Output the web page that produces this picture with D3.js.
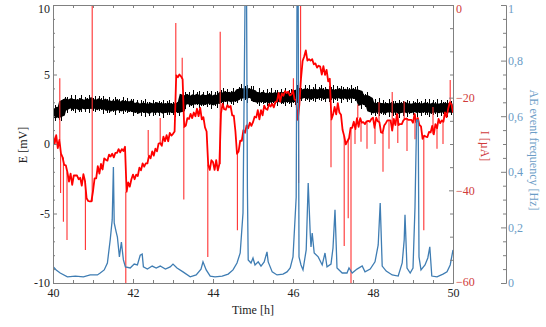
<!DOCTYPE html>
<html><head><meta charset="utf-8">
<script src="https://cdn.jsdelivr.net/npm/d3@7"></script>
<style>
html,body{margin:0;padding:0;background:#fff;}
svg{display:block;font-family:"Liberation Serif","Times New Roman",serif;}
</style></head><body>
<svg id="c" width="546" height="327"></svg>
<script>
// ---------- DATA ----------
// E [mV] (black), sampled every 0.05 h from 40 h
const eT0 = 40, eDt = 0.05;
const eMean = [
 2.25,2.20,2.30,2.22,2.28,
 2.85,2.92,2.80,2.88,2.95,2.83,2.90,2.86,2.79,2.93,2.87,2.82,2.91,2.85,2.96,2.84,2.89,2.81,2.92,2.86,2.80,2.88,
 2.75,2.80,2.70,2.78,2.72,2.83,2.74,2.69,2.79,2.73,2.77,2.68,2.76,
 2.62,2.58,2.66,2.55,2.61,2.64,2.57,2.60,2.53,2.63,2.59,2.56,2.65,2.58,2.62,2.54,2.60,2.57,2.63,2.59,2.55,2.61,2.64,2.58,2.62,
 3.20,3.15,3.24,3.18,3.12,3.22,3.17,3.25,3.19,3.14,3.23,3.16,3.21,3.26,3.18,3.13,3.22,3.19,3.24,
 3.40,3.36,3.44,3.38,3.42,3.35,3.43,3.39,3.45,
 3.65,3.70,3.62,3.68,3.60,3.67,3.63,3.58,
 3.35,3.30,3.38,3.33,3.40,3.31,3.36,3.29,3.37,3.34,3.39,3.32,3.35,3.41,3.30,3.36,3.33,3.38,3.31,3.37,3.34,
 3.60,3.64,3.57,3.62,3.66,3.59,3.63,3.55,3.61,3.65,3.58,3.62,3.67,3.60,3.56,3.63,3.59,3.64,3.61,3.57,3.62,3.66,3.58,3.60,3.63,3.56,3.61,3.59,3.64,3.57,3.60,3.55,
 3.15,3.20,3.12,3.18,3.10,
 2.60,2.55,2.63,2.58,2.65,2.57,2.62,2.54,2.61,2.59,2.64,2.56,2.60,2.63,2.53,2.62,2.58,2.66,2.57,2.61,2.55,2.60,2.64,2.58,2.62,2.56,2.59,2.65,2.57,2.61,2.54,2.63,2.58,2.60,2.56,2.62,2.59,2.64,2.57,2.61,2.58,2.60
];
// spread of E around its mean (mV)
const eDev = [
 0.40,0.57,0.33,0.51,0.65,0.37,0.46,0.60,0.30,0.54,0.43,0.66,0.35,0.49,0.62,0.32,0.55,0.41,0.64,0.38,
 0.47,0.59,0.34,0.53,0.42,0.64,0.31,0.50,0.58,0.36,0.45,0.66,0.39,0.52,0.33,0.61,0.44,0.56,0.35,0.48,
 0.63,0.37,0.51,0.32,0.56,0.43,0.66,0.40,0.48,0.34,0.59,0.45,0.30,0.54,0.42,0.65,0.36,0.50,0.57,0.33,
 0.44,0.66,0.38,0.55,0.31,0.49,0.62,0.35,0.53,0.41,0.66,0.32,0.47,0.60,0.39,0.52,0.34,0.58,0.43,0.64,
 0.35,0.51,0.61,0.33,0.46,0.66,0.40,0.55,0.31,0.48,0.63,0.37,0.53,0.42,0.59,0.30,0.49,0.66,0.38,0.54,
 0.58,0.32,0.45,0.64,0.39,0.52,0.34,0.60,0.43,0.66,0.36,0.50,0.57,0.31,0.55,0.41,0.66,0.35,0.48,0.62,
 0.41,0.54,0.66,0.36,0.49,0.32,0.57,0.44,0.63,0.38,0.51,0.65,0.33,0.47,0.60,0.40,0.53,0.31,0.56,0.45,
 0.66,0.39,0.52,0.35,0.61,0.47,0.30,0.55,0.42,0.66,0.37,0.50,0.58,0.34,0.64,0.43,0.48,0.59,0.32,0.51,
 0.33,0.60,0.43,0.66,0.38,0.54,0.46,0.31,0.62,0.40,0.56,0.49,0.35,0.65,0.42,0.53,0.37,0.61,0.45,0.30,
 0.52,0.37,0.64,0.41,0.55,0.33,0.59,0.48,0.66,0.36,0.51,0.43,0.66,0.32,0.57,0.46,0.40,0.63,0.34,0.49,
 0.55
];
// I [uA] (red), sampled every 0.04 h from 40 h
const iT0 = 40, iDt = 0.04;
const iBase = [
 -28.0,-30.0,-28.1,-30.9,-29.1,-32.1,-32.9,-34.5,-34.6,-36.1,-38.1,-36.4,-38.8,-36.8,-36.8,-36.8,-37.6,-37.3,-39.0,-36.5,-38.0,-41.7,-42.3,-42.4,-42.4,
 -40.2,-37.4,-37.4,-34.8,-36.4,-34.3,-35.5,-33.1,-33.4,-33.6,-32.3,-32.7,-32.1,-32.9,-31.9,-31.9,-31.1,-31.8,-31.1,-31.5,-30.6,-40.3,-38.3,-39.2,-37.6,
 -36.6,-37.6,-36.6,-36.9,-35.1,-35.7,-34.2,-34.9,-34.2,-34.2,-32.5,-33.1,-31.6,-32.5,-31.0,-31.6,-29.9,-29.8,-30.4,-28.4,-29.4,-28.1,-29.4,-27.6,-28.2,
 -27.8,-27.3,-15.2,-15.6,-15.0,-15.4,-16.0,-26.3,-26.0,-24.4,-24.6,-23.5,-24.4,-23.2,-24.0,-22.4,-24.0,-22.2,-24.7,-24.2,-26.4,-27.3,-34.5,-35.6,-33.5,
 -33.9,-35.6,-33.5,-35.7,-34.3,-23.4,-21.3,-22.5,-22.6,-21.6,-22.1,-21.8,-23.8,-23.9,-27.2,-32.1,-31.6,-29.3,-29.3,-27.0,-27.6,-26.0,-26.6,-25.4,-26.1,
 -25.3,-24.1,-24.3,-22.7,-24.7,-22.7,-23.8,-21.7,-22.4,-22.6,-21.4,-21.9,-21.3,-22.1,-20.9,-20.8,-19.0,-20.9,-19.1,-19.6,-18.6,-19.0,-18.7,-19.5,-19.3,
 -18.4,-20.4,-20.5,-24.8,-21.4,-15.9,-12.1,-11.1,-9.8,-12.0,-11.7,-12.0,-11.7,-12.8,-12.6,-13.5,-13.1,-13.3,-15.0,-13.2,-15.1,-14.0,-16.5,-15.9,-24.7,
 -23.7,-22.0,-23.6,-21.2,-23.2,-23.7,-27.0,-28.3,-30.1,-29.4,-28.8,-26.5,-26.5,-25.2,-26.8,-24.4,-26.3,-24.4,-25.4,-25.3,-25.7,-25.1,-25.0,-25.2,-24.6,
 -24.3,-26.5,-24.3,-25.1,-25.3,-27.5,-27.6,-26.0,-25.5,-24.9,-24.9,-24.9,-27.1,-24.6,-25.9,-23.5,-25.9,-25.7,-25.7,-24.9,-24.6,-24.5,-24.8,-24.8,-24.8,
 -25.4,-23.5,-25.3,-24.4,-25.9,-26.2,-28.9,-28.2,-28.4,-28.5,-27.4,-27.5,-26.1,-27.9,-25.7,-26.6,-24.6,-25.5,-24.9,-25.2,-23.2,-24.2,-22.4,-21.0,-21.4,-23.2
];
// short current transients (time h, extreme value uA)
const iSpikeT = [40.17,40.19,40.26,40.35,40.81,40.98,41.82,42.38,42.68,43.07,43.23,43.27,43.87,44.18,44.61,46.01,46.14,46.19,46.95,47.28,47.38,47.45,47.55,47.62,47.70,47.85,48.05,48.15,48.25,48.40,48.48,48.62,48.78,48.85,49.05,49.27,49.50,49.60,49.75,49.93];
const iSpikeV = [-15.8,-40.6,-46.8,-50.7,-52.9,0,-61,-27,-24.4,-3.9,-11.4,-42,-54.4,-5.8,-48.6,-15.8,-38.4,0,-35,-52,-46,-61,-30,-21.5,-29.5,-31,-30,-21,-36,-31,-18.8,-29.8,-20.8,-31.5,-29,-48.6,-22,-31,-30,-16.2];
// AE event frequency [Hz] (blue)
const aeT = [40.01,40.08,40.18,40.36,40.56,40.76,40.93,41.11,41.18,41.28,41.36,41.43,41.48,41.51,41.53,41.58,41.61,41.66,41.71,41.76,41.81,41.93,42.03,42.11,42.18,42.23,42.26,42.36,42.48,42.58,42.68,42.81,42.93,43.00,43.10,43.25,43.43,43.58,43.70,43.75,43.83,43.93,44.05,44.23,44.38,44.50,44.60,44.68,44.75,44.80,44.84,44.86,44.88,44.95,45.00,45.05,45.13,45.20,45.28,45.35,45.38,45.48,45.60,45.75,45.85,45.93,46.00,46.08,46.10,46.13,46.15,46.20,46.25,46.33,46.38,46.43,46.45,46.48,46.53,46.63,46.73,46.80,46.85,46.95,47.00,47.05,47.10,47.23,47.35,47.40,47.48,47.60,47.73,47.80,47.93,48.05,48.13,48.18,48.23,48.33,48.48,48.63,48.73,48.78,48.80,48.85,48.93,49.00,49.05,49.09,49.13,49.15,49.20,49.30,49.37,49.42,49.47,49.60,49.75,49.85,49.93,50.00];
const aeF = [0.058,0.047,0.036,0.022,0.025,0.022,0.029,0.029,0.036,0.047,0.072,0.155,0.227,0.417,0.216,0.183,0.165,0.094,0.147,0.083,0.058,0.054,0.068,0.065,0.100,0.104,0.058,0.050,0.061,0.054,0.061,0.050,0.058,0.068,0.054,0.040,0.022,0.029,0.050,0.076,0.047,0.025,0.022,0.025,0.032,0.047,0.072,0.108,0.252,1.0,1.0,0.342,0.083,0.072,0.090,0.065,0.076,0.061,0.076,0.112,0.076,0.040,0.029,0.032,0.040,0.054,0.094,0.309,1.0,1.0,0.094,0.065,0.047,0.119,0.360,0.180,0.130,0.180,0.108,0.094,0.065,0.108,0.058,0.068,0.126,0.263,0.054,0.036,0.036,0.054,0.036,0.050,0.061,0.040,0.050,0.076,0.137,0.288,0.061,0.043,0.029,0.025,0.072,0.155,0.245,0.054,0.036,0.054,0.273,0.586,0.586,0.094,0.047,0.065,0.090,0.130,0.025,0.022,0.032,0.040,0.065,0.119];
// tick labels
const xTicks = [40,42,44,46,48,50];
const eTicks = [-10,-5,0,5,10];
const iTicks = [-60,-40,-20,0];
const fTicks = [0,0.2,0.4,0.6,0.8,1];
const fLabels = ["0","0,2","0,4","0,6","0,8","1"];

// ---------- CHART ----------
const svg = d3.select("#c");
const L=53, R=453, T=5, B=283, AX2=506;
const x = d3.scaleLinear().domain([40,50]).range([L,R]);
const yE = d3.scaleLinear().domain([-10,10]).range([B,T]);
const yI = d3.scaleLinear().domain([-60,0]).range([B,T]);
const yF = d3.scaleLinear().domain([0,1]).range([B,T]);
const gray = "#808080", redTxt = "#d03a3a", blueTxt = "#6b9cc6";
const ff = '"Liberation Serif","Times New Roman",serif';

svg.append("defs").append("clipPath").attr("id","clip")
  .append("rect").attr("x",L).attr("y",T).attr("width",R-L).attr("height",B-T);
const gData = svg.append("g").attr("clip-path","url(#clip)");

// black E
const n = Math.min(eMean.length, eDev.length);
const ePts = eMean.slice(0,n).map((v,i)=>({t:eT0+i*eDt, v, d:eDev[i]}));
gData.append("g").attr("shape-rendering","crispEdges").selectAll("line").data(ePts).join("line")
  .attr("x1",d=>x(d.t)).attr("x2",d=>x(d.t))
  .attr("y1",d=>yE(d.v-d.d)).attr("y2",d=>yE(d.v+d.d))
  .attr("stroke","#000").attr("stroke-width",1);
gData.append("path").datum(ePts)
  .attr("d", d3.line().x(d=>x(d.t)).y(d=>yE(d.v)))
  .attr("fill","none").attr("stroke","#000").attr("stroke-width",9);

// red I : transients as thin lines, trace as a noisy band
const iPts = iBase.map((v,i)=>({t:iT0+i*iDt, v}));
const spikes = iSpikeT.map((t,i)=>{
  const k = Math.max(0, Math.min(iBase.length-1, Math.round((t-iT0)/iDt)));
  return {t, from:iBase[k], to:iSpikeV[i]};
});
gData.append("g").selectAll("line").data(spikes).join("line")
  .attr("x1",d=>x(d.t)).attr("x2",d=>x(d.t))
  .attr("y1",d=>yI(d.from)).attr("y2",d=>yI(d.to))
  .attr("stroke","#ff3030").attr("stroke-width",1.1);
gData.append("path").datum(iPts)
  .attr("d", d3.line().x(d=>x(d.t)).y(d=>yI(d.v)))
  .attr("fill","none").attr("stroke","#ff0000").attr("stroke-width",1.8).attr("stroke-linejoin","round");

// blue AE
const aPts = aeT.map((t,i)=>({t, v:aeF[i]}));
gData.append("path").datum(aPts)
  .attr("d", d3.line().x(d=>x(d.t)).y(d=>yF(d.v)))
  .attr("fill","none").attr("stroke","#3f7db3").attr("stroke-width",1.3);

// axes
function styleAxis(g, txtColor){
  g.attr("font-family",ff).attr("font-size",12);
  g.selectAll(".domain").attr("stroke",gray);
  g.selectAll(".tick line").attr("stroke",gray);
  g.selectAll("text").attr("fill",txtColor).style("font-family",ff).style("font-size","12px");
}
function nudgeTop(g, topVal){
  g.selectAll(".tick").filter(d=>Math.abs(d-topVal)<1e-9).select("text").attr("dy","0.62em");
}
const minorX = d3.range(40,50.001,0.5).filter(v=>Math.abs(v/2-Math.round(v/2))>1e-6);
const minorE = d3.range(-10,10.001,1).filter(v=>v%5!==0);
const minorI = d3.range(-60,0.001,5).filter(v=>v%20!==0);
const minorF = d3.range(0,1.0001,0.05).filter(v=>Math.abs(v*5-Math.round(v*5))>1e-6);

// bottom
let g = svg.append("g").attr("transform",`translate(0,${B})`)
  .call(d3.axisBottom(x).tickValues(xTicks).tickSize(-4).tickSizeOuter(0).tickPadding(5).tickFormat(d3.format("d")));
styleAxis(g,"#222");
g = svg.append("g").attr("transform",`translate(0,${B})`)
  .call(d3.axisBottom(x).tickValues(minorX).tickSize(-3).tickSizeOuter(0).tickFormat(""));
styleAxis(g,"#222");
// top
g = svg.append("g").attr("transform",`translate(0,${T})`)
  .call(d3.axisTop(x).tickValues(xTicks.concat(minorX)).tickSize(-3).tickSizeOuter(0).tickFormat(""));
styleAxis(g,"#222");
// left
g = svg.append("g").attr("transform",`translate(${L},0)`)
  .call(d3.axisLeft(yE).tickValues(eTicks).tickSize(-4).tickSizeOuter(0).tickPadding(3).tickFormat(d=>String(d)));
styleAxis(g,"#222"); nudgeTop(g,10);
g = svg.append("g").attr("transform",`translate(${L},0)`)
  .call(d3.axisLeft(yE).tickValues(minorE).tickSize(-2).tickSizeOuter(0).tickFormat(""));
styleAxis(g,"#222");
// right (I)
g = svg.append("g").attr("transform",`translate(${R},0)`)
  .call(d3.axisRight(yI).tickValues(iTicks).tickSize(-4).tickSizeOuter(0).tickPadding(3));
styleAxis(g,redTxt); nudgeTop(g,0);
g.selectAll(".tick").filter(d=>d===-60).select("text").attr("dy","0.2em");
g = svg.append("g").attr("transform",`translate(${R},0)`)
  .call(d3.axisRight(yI).tickValues(minorI).tickSize(-3).tickSizeOuter(0).tickFormat(""));
styleAxis(g,redTxt);
// far right (AE)
g = svg.append("g").attr("transform",`translate(${AX2},0)`)
  .call(d3.axisRight(yF).tickValues(fTicks).tickSize(-5).tickSizeOuter(0).tickPadding(2).tickFormat((d,i)=>fLabels[i]));
styleAxis(g,blueTxt); nudgeTop(g,1);
g = svg.append("g").attr("transform",`translate(${AX2},0)`)
  .call(d3.axisRight(yF).tickValues(minorF).tickSize(-3).tickSizeOuter(0).tickFormat(""));
styleAxis(g,blueTxt);

// axis titles
svg.append("text").attr("transform","translate(27,145) rotate(-90)").attr("text-anchor","middle")
  .style("font-family",ff).style("font-size","12px").attr("fill","#222").text("E [mV]");
svg.append("text").attr("x",253).attr("y",314).attr("text-anchor","middle")
  .style("font-family",ff).style("font-size","12px").attr("fill","#222").text("Time [h]");
svg.append("text").attr("transform","translate(481,146) rotate(90)").attr("text-anchor","middle")
  .style("font-family",ff).style("font-size","12px").attr("fill",redTxt).text("I [µA]");
svg.append("text").attr("transform","translate(530,150) rotate(90)").attr("text-anchor","middle")
  .style("font-family",ff).style("font-size","12px").attr("fill",blueTxt).text("AE event frequency [Hz]");
</script>
</body></html>
